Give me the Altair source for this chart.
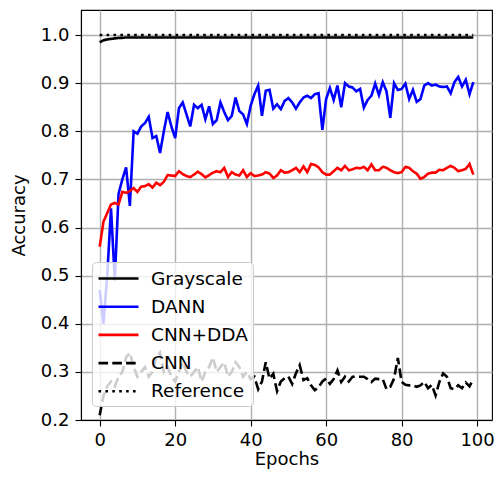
import altair as alt
import pandas as pd

epochs = list(range(100))

grayscale = [
    0.985, 0.989, 0.991, 0.992, 0.993, 0.994, 0.994, 0.995, 0.995, 0.995,
    0.995, 0.995, 0.995, 0.995, 0.995, 0.995, 0.995, 0.995, 0.995, 0.995,
    0.995, 0.995, 0.995, 0.995, 0.995, 0.995, 0.995, 0.995, 0.995, 0.995,
    0.995, 0.995, 0.995, 0.995, 0.995, 0.995, 0.995, 0.995, 0.995, 0.995,
    0.995, 0.995, 0.995, 0.995, 0.995, 0.995, 0.995, 0.995, 0.995, 0.995,
    0.995, 0.995, 0.995, 0.995, 0.995, 0.995, 0.995, 0.995, 0.995, 0.995,
    0.995, 0.995, 0.995, 0.995, 0.995, 0.995, 0.995, 0.995, 0.995, 0.995,
    0.995, 0.995, 0.995, 0.995, 0.995, 0.995, 0.995, 0.995, 0.995, 0.995,
    0.995, 0.995, 0.995, 0.995, 0.995, 0.995, 0.995, 0.995, 0.995, 0.995,
    0.995, 0.995, 0.995, 0.995, 0.995, 0.995, 0.995, 0.995, 0.995, 0.995,
]

dann = [
    0.47, 0.40, 0.50, 0.64, 0.49, 0.67, 0.70, 0.725, 0.645, 0.80,
    0.795, 0.81, 0.817, 0.83, 0.786, 0.79, 0.755, 0.80, 0.84, 0.81,
    0.786, 0.848, 0.86, 0.835, 0.81, 0.855, 0.848, 0.855, 0.825, 0.852,
    0.815, 0.823, 0.86, 0.84, 0.823, 0.832, 0.87, 0.842, 0.835, 0.815,
    0.853, 0.877, 0.895, 0.832, 0.884, 0.886, 0.847, 0.856, 0.846, 0.863,
    0.869, 0.86, 0.847, 0.86, 0.87, 0.874, 0.869, 0.877, 0.879, 0.803,
    0.867, 0.89, 0.865, 0.895, 0.85, 0.90, 0.893, 0.891, 0.883, 0.888,
    0.849, 0.865, 0.874, 0.899, 0.875, 0.902, 0.883, 0.828, 0.90, 0.886,
    0.888, 0.899, 0.867, 0.886, 0.861, 0.867, 0.895, 0.90, 0.895, 0.897,
    0.893, 0.892, 0.893, 0.879, 0.902, 0.913, 0.893, 0.907, 0.877, 0.902,
]

cnn_dda = [
    0.56, 0.612, 0.63, 0.648, 0.651, 0.648, 0.674, 0.672, 0.676, 0.682,
    0.674, 0.685, 0.686, 0.69, 0.683, 0.693, 0.688, 0.695, 0.709, 0.708,
    0.707, 0.717, 0.711, 0.707, 0.705, 0.71, 0.716, 0.711, 0.704, 0.709,
    0.714, 0.717, 0.715, 0.724, 0.705, 0.715, 0.71, 0.708, 0.719, 0.705,
    0.713, 0.707, 0.708, 0.71, 0.715, 0.712, 0.703, 0.708, 0.719, 0.714,
    0.715, 0.719, 0.724, 0.715, 0.727, 0.715, 0.732, 0.73, 0.725, 0.715,
    0.71, 0.71, 0.717, 0.724, 0.719, 0.728, 0.719, 0.721, 0.724, 0.723,
    0.726, 0.719, 0.731, 0.719, 0.719, 0.726, 0.724, 0.719, 0.715, 0.713,
    0.715, 0.726, 0.724, 0.717, 0.712, 0.701, 0.705, 0.712, 0.714, 0.714,
    0.72, 0.719, 0.724, 0.728, 0.724, 0.717, 0.719, 0.722, 0.732, 0.71,
]

cnn = [
    0.21, 0.25, 0.27, 0.28, 0.27, 0.29, 0.30, 0.33, 0.34, 0.31,
    0.29, 0.30, 0.31, 0.29, 0.30, 0.33, 0.34, 0.30, 0.31, 0.29,
    0.28, 0.30, 0.32, 0.30, 0.29, 0.30, 0.31, 0.28, 0.30, 0.31,
    0.33, 0.30, 0.31, 0.32, 0.29, 0.30, 0.32, 0.31, 0.29, 0.30,
    0.285, 0.29, 0.264, 0.28, 0.32, 0.286, 0.296, 0.26, 0.28, 0.287,
    0.29, 0.275, 0.297, 0.314, 0.283, 0.287, 0.272, 0.262, 0.268, 0.28,
    0.286, 0.275, 0.285, 0.303, 0.279, 0.29, 0.28, 0.29, 0.29, 0.29,
    0.29, 0.285, 0.279, 0.286, 0.285, 0.285, 0.264, 0.269, 0.286, 0.329,
    0.279, 0.273, 0.272, 0.272, 0.269, 0.272, 0.279, 0.266, 0.273, 0.251,
    0.279, 0.297, 0.29, 0.266, 0.264, 0.272, 0.266, 0.278, 0.27, 0.285,
]

reference = [
    1.0, 1.0, 1.0, 1.0, 1.0, 1.0, 1.0, 1.0, 1.0, 1.0,
    1.0, 1.0, 1.0, 1.0, 1.0, 1.0, 1.0, 1.0, 1.0, 1.0,
    1.0, 1.0, 1.0, 1.0, 1.0, 1.0, 1.0, 1.0, 1.0, 1.0,
    1.0, 1.0, 1.0, 1.0, 1.0, 1.0, 1.0, 1.0, 1.0, 1.0,
    1.0, 1.0, 1.0, 1.0, 1.0, 1.0, 1.0, 1.0, 1.0, 1.0,
    1.0, 1.0, 1.0, 1.0, 1.0, 1.0, 1.0, 1.0, 1.0, 1.0,
    1.0, 1.0, 1.0, 1.0, 1.0, 1.0, 1.0, 1.0, 1.0, 1.0,
    1.0, 1.0, 1.0, 1.0, 1.0, 1.0, 1.0, 1.0, 1.0, 1.0,
    1.0, 1.0, 1.0, 1.0, 1.0, 1.0, 1.0, 1.0, 1.0, 1.0,
    1.0, 1.0, 1.0, 1.0, 1.0, 1.0, 1.0, 1.0, 1.0, 1.0,
]

series_names = ["Grayscale", "DANN", "CNN+DDA", "CNN", "Reference"]
series_values = [grayscale, dann, cnn_dda, cnn, reference]
series_colors = ["#000000", "#0000ff", "#ff0000", "#000000", "#000000"]
series_dashes = [[1, 0], [1, 0], [1, 0], [9.6, 4.2], [2.6, 4.3]]

x_ticks = [0, 20, 40, 60, 80, 100]
y_ticks = [0.2, 0.3, 0.4, 0.5, 0.6, 0.7, 0.8, 0.9, 1.0]

rows = []
for name, vals in zip(series_names, series_values):
    for e, v in zip(epochs, vals):
        rows.append({"epoch": e, "acc": v, "series": name})
df = pd.DataFrame(rows)

FONT = "DejaVu Sans"

legend = alt.Legend(
    title=None,
    orient="none",
    legendX=11,
    legendY=252,
    symbolType="M-2,0H2",
    symbolSize=400,
    symbolOffset=10,
    symbolStrokeWidth=2.6,
    labelFontSize=18.5,
    labelFont=FONT,
    labelColor="black",
    labelOffset=21,
    padding=5,
    rowPadding=7.2,
    fillColor="rgba(255,255,255,0.8)",
    strokeColor="#cccccc",
    cornerRadius=4,
)

chart = (
    alt.Chart(df)
    .mark_line(strokeWidth=2.6, clip=True)
    .encode(
        x=alt.X(
            "epoch:Q",
            scale=alt.Scale(domain=[-4.95, 103.95], nice=False, zero=False),
            axis=alt.Axis(values=x_ticks, title="Epochs", format="d"),
        ),
        y=alt.Y(
            "acc:Q",
            scale=alt.Scale(domain=[0.2, 1.052], nice=False, zero=False),
            axis=alt.Axis(values=y_ticks, title="Accuracy", format=".1f"),
        ),
        color=alt.Color(
            "series:N",
            scale=alt.Scale(domain=series_names, range=series_colors),
            legend=legend,
        ),
        strokeDash=alt.StrokeDash(
            "series:N",
            scale=alt.Scale(domain=series_names, range=series_dashes),
            legend=legend,
        ),
    )
    .properties(
        width=411,
        height=410,
        autosize=alt.AutoSizeParams(type="none"),
        padding={"left": 73, "top": 2, "right": 4, "bottom": 49},
    )
    .configure_view(stroke="black", strokeWidth=1.1)
    .configure_axis(
        domainColor="black",
        domainWidth=1.1,
        tickColor="black",
        tickWidth=1.1,
        tickSize=6,
        labelColor="black",
        titleColor="black",
        labelFont=FONT,
        titleFont=FONT,
        labelFontSize=18,
        titleFontSize=18,
        titleFontWeight="normal",
        gridColor="#b0b0b0",
        gridWidth=1.4,
    )
    .configure_axisY(labelPadding=6, titlePadding=12)
    .configure_axisX(labelPadding=5, titlePadding=1)
)

chart.save("out.html", embed_options={"renderer": "svg", "actions": False})
